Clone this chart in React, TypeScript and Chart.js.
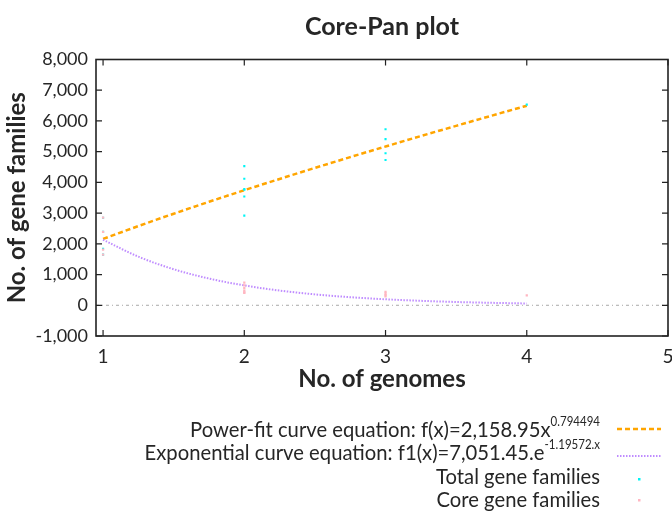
import React, { useEffect, useRef } from "react";
import { Chart, registerables } from "chart.js";

Chart.register(...registerables);

const CHART_TITLE = "Core-Pan plot";
const X_TITLE = "No. of genomes";
const Y_TITLE = "No. of gene families";

const xTicks = [1, 2, 3, 4, 5];
const yTicks = [-1000, 0, 1000, 2000, 3000, 4000, 5000, 6000, 7000, 8000];

const totalGenomes = [1, 1, 1, 1, 2, 2, 2, 2, 2, 2, 3, 3, 3, 3, 4];
const totalFamilies = [2850, 2390, 1840, 1650, 4530, 4120, 3780, 3760, 3540, 2920, 5730, 5410, 4950, 4730, 6530];

const coreGenomes = [1, 1, 1, 1, 2, 2, 2, 2, 2, 2, 3, 3, 3, 3, 4];
const coreFamilies = [2850, 2390, 1810, 1650, 740, 650, 560, 480, 420, 400, 440, 380, 330, 290, 320];

const fitGenomes = [1, 1.25, 1.5, 1.75, 2, 2.25, 2.5, 2.75, 3, 3.25, 3.5, 3.75, 4];
const powerFit = [2159, 2578, 2980, 3368, 3745, 4112, 4471, 4823, 5168, 5507, 5841, 6170, 6495];
const expFit = [2133, 1582, 1173, 870, 645, 479, 355, 263, 195, 145, 107, 80, 59];

const zeroLineX = [0.95, 5];
const zeroLineY = [0, 0];

const legendTexts = [
  "Power-fit curve equation: f(x)=2,158.95x",
  "Exponential curve equation: f1(x)=7,051.45.e",
  "Total gene families",
  "Core gene families",
];
const legendSups = ["0.794494", "-1.19572.x", "", ""];

const COLORS = {
  power: "#FFA500",
  exp: "#BF8CFF",
  total: "#00F5F5",
  core: "#FFB6C1",
  zero: "#A8A8A8",
  frame: "#222222",
  text: "#262626",
};

const FONT = 'Lato, "Liberation Sans", Arial, sans-serif';
const NARROW_X = 0.92;

const framePlugin = {
  id: "frameTicks",
  afterDatasetsDraw(chart: any) {
    const { ctx, chartArea, scales } = chart;
    const { left, right, top, bottom } = chartArea;
    const x = scales.x;
    const y = scales.y;
    ctx.save();
    ctx.strokeStyle = COLORS.frame;
    ctx.lineWidth = 1.2;
    ctx.beginPath();
    x.ticks.forEach((t: any) => {
      const px = x.getPixelForValue(t.value);
      ctx.moveTo(px, bottom);
      ctx.lineTo(px, bottom - 6);
      ctx.moveTo(px, top);
      ctx.lineTo(px, top + 6);
    });
    y.ticks.forEach((t: any) => {
      const py = y.getPixelForValue(t.value);
      ctx.moveTo(left, py);
      ctx.lineTo(left + 6, py);
      ctx.moveTo(right, py);
      ctx.lineTo(right - 6, py);
    });
    ctx.stroke();
    ctx.lineWidth = 1.6;
    ctx.strokeRect(left, top, right - left, bottom - top);
    ctx.restore();
  },
};

const legendPlugin = {
  id: "gnuLegend",
  afterDraw(chart: any) {
    const { ctx } = chart;
    const xRight = 600;
    const baselines = [437, 460, 484, 507];
    const mainFont = `22px ${FONT}`;
    const supFont = `12.5px ${FONT}`;
    ctx.save();
    ctx.fillStyle = COLORS.text;
    ctx.textBaseline = "alphabetic";
    legendTexts.forEach((txt, i) => {
      const sup = legendSups[i];
      let end = xRight;
      if (sup) {
        ctx.font = supFont;
        const w = ctx.measureText(sup).width * NARROW_X;
        ctx.save();
        ctx.translate(xRight, baselines[i] - 11);
        ctx.scale(NARROW_X, 1);
        ctx.textAlign = "right";
        ctx.fillText(sup, 0, 0);
        ctx.restore();
        end = xRight - w;
      }
      ctx.font = mainFont;
      ctx.save();
      ctx.translate(end, baselines[i]);
      ctx.scale(NARROW_X, 1);
      ctx.textAlign = "right";
      ctx.fillText(txt, 0, 0);
      ctx.restore();
    });
    const sx0 = 617;
    const sx1 = 661;
    ctx.lineWidth = 2.5;
    ctx.strokeStyle = COLORS.power;
    ctx.setLineDash([5, 3]);
    ctx.beginPath();
    ctx.moveTo(sx0, baselines[0] - 8);
    ctx.lineTo(sx1, baselines[0] - 8);
    ctx.stroke();
    ctx.lineWidth = 2;
    ctx.strokeStyle = COLORS.exp;
    ctx.setLineDash([1.5, 1.5]);
    ctx.beginPath();
    ctx.moveTo(sx0, baselines[1] - 4);
    ctx.lineTo(sx1, baselines[1] - 4);
    ctx.stroke();
    ctx.setLineDash([]);
    ctx.fillStyle = COLORS.total;
    ctx.fillRect(638, baselines[2] - 6, 2.5, 2.5);
    ctx.fillStyle = COLORS.core;
    ctx.fillRect(638, baselines[3] - 8, 2.5, 2.5);
    ctx.restore();
  },
};

export default function App() {
  const canvasRef = useRef<HTMLCanvasElement | null>(null);

  useEffect(() => {
    document.body.style.margin = "0";
    const canvas = canvasRef.current;
    if (!canvas) return;
    const chart = new Chart(canvas, {
      type: "scatter",
      data: {
        datasets: [
          {
            label: "Core gene families",
            data: coreGenomes.map((g, i) => ({ x: g, y: coreFamilies[i] })),
            backgroundColor: COLORS.core,
            borderColor: COLORS.core,
            pointStyle: "rect",
            pointRadius: 1.6,
            borderWidth: 0,
            showLine: false,
          },
          {
            label: "Total gene families",
            data: totalGenomes.map((g, i) => ({ x: g, y: totalFamilies[i] })),
            backgroundColor: COLORS.total,
            borderColor: COLORS.total,
            pointStyle: "rect",
            pointRadius: 1.5,
            borderWidth: 0,
            showLine: false,
          },
          {
            label: "Exponential curve",
            data: fitGenomes.map((g, i) => ({ x: g, y: expFit[i] })),
            borderColor: COLORS.exp,
            borderWidth: 2,
            borderDash: [1.5, 1.5],
            pointRadius: 0,
            showLine: true,
            cubicInterpolationMode: "monotone",
          },
          {
            label: "Power-fit curve",
            data: fitGenomes.map((g, i) => ({ x: g, y: powerFit[i] })),
            borderColor: COLORS.power,
            borderWidth: 2.5,
            borderDash: [5, 3],
            pointRadius: 0,
            showLine: true,
            cubicInterpolationMode: "monotone",
          },
          {
            label: "zero",
            data: zeroLineX.map((g, i) => ({ x: g, y: zeroLineY[i] })),
            borderColor: COLORS.zero,
            borderWidth: 1,
            borderDash: [3, 3, 1, 3],
            pointRadius: 0,
            showLine: true,
          },
        ],
      },
      options: {
        animation: false,
        responsive: false,
        maintainAspectRatio: false,
        layout: { padding: { left: 0, right: 3, top: 0, bottom: 113 } },
        plugins: {
          legend: { display: false },
          tooltip: { enabled: false },
          title: {
            display: true,
            fullSize: false,
            text: CHART_TITLE,
            color: COLORS.text,
            font: { family: FONT, size: 25, weight: "bold", lineHeight: 1.2 },
            padding: { top: 12, bottom: 17.5 },
          },
        },
        scales: {
          x: {
            type: "linear",
            min: 0.95,
            max: 5,
            grid: { display: false, drawTicks: false },
            border: { display: false },
            afterBuildTicks: (s: any) => {
              s.ticks = xTicks.map((v) => ({ value: v }));
            },
            afterFit: (s: any) => {
              s.height = 64;
              s.paddingRight = 0;
              s.paddingLeft = 0;
            },
            ticks: {
              color: COLORS.text,
              padding: 9,
              maxRotation: 0,
              autoSkip: false,
              font: { family: FONT, size: 19 },
              callback: (v: any) => String(v),
            },
            title: {
              display: true,
              text: X_TITLE,
              color: COLORS.text,
              font: { family: FONT, size: 24, weight: "bold", lineHeight: 1.2 },
              padding: { top: 0, bottom: 6 },
            },
          },
          y: {
            type: "linear",
            min: -1000,
            max: 8000,
            grid: { display: false, drawTicks: false },
            border: { display: false },
            afterBuildTicks: (s: any) => {
              s.ticks = yTicks.map((v) => ({ value: v }));
            },
            afterFit: (s: any) => {
              s.width = 96;
            },
            ticks: {
              color: COLORS.text,
              padding: 8,
              autoSkip: false,
              font: { family: FONT, size: 18 },
              callback: (v: any) => Number(v).toLocaleString("en-US"),
            },
            title: {
              display: true,
              text: Y_TITLE,
              color: COLORS.text,
              font: { family: FONT, size: 24, weight: "bold", lineHeight: 1.2 },
              padding: { top: 3, bottom: 0 },
            },
          },
        },
      },
      plugins: [framePlugin, legendPlugin],
    } as any);
    return () => chart.destroy();
  }, []);

  return (
    <div style={{ width: 672, height: 513, background: "#fff" }}>
      <canvas ref={canvasRef} width={672} height={513} style={{ display: "block", width: 672, height: 513 }} />
    </div>
  );
}
